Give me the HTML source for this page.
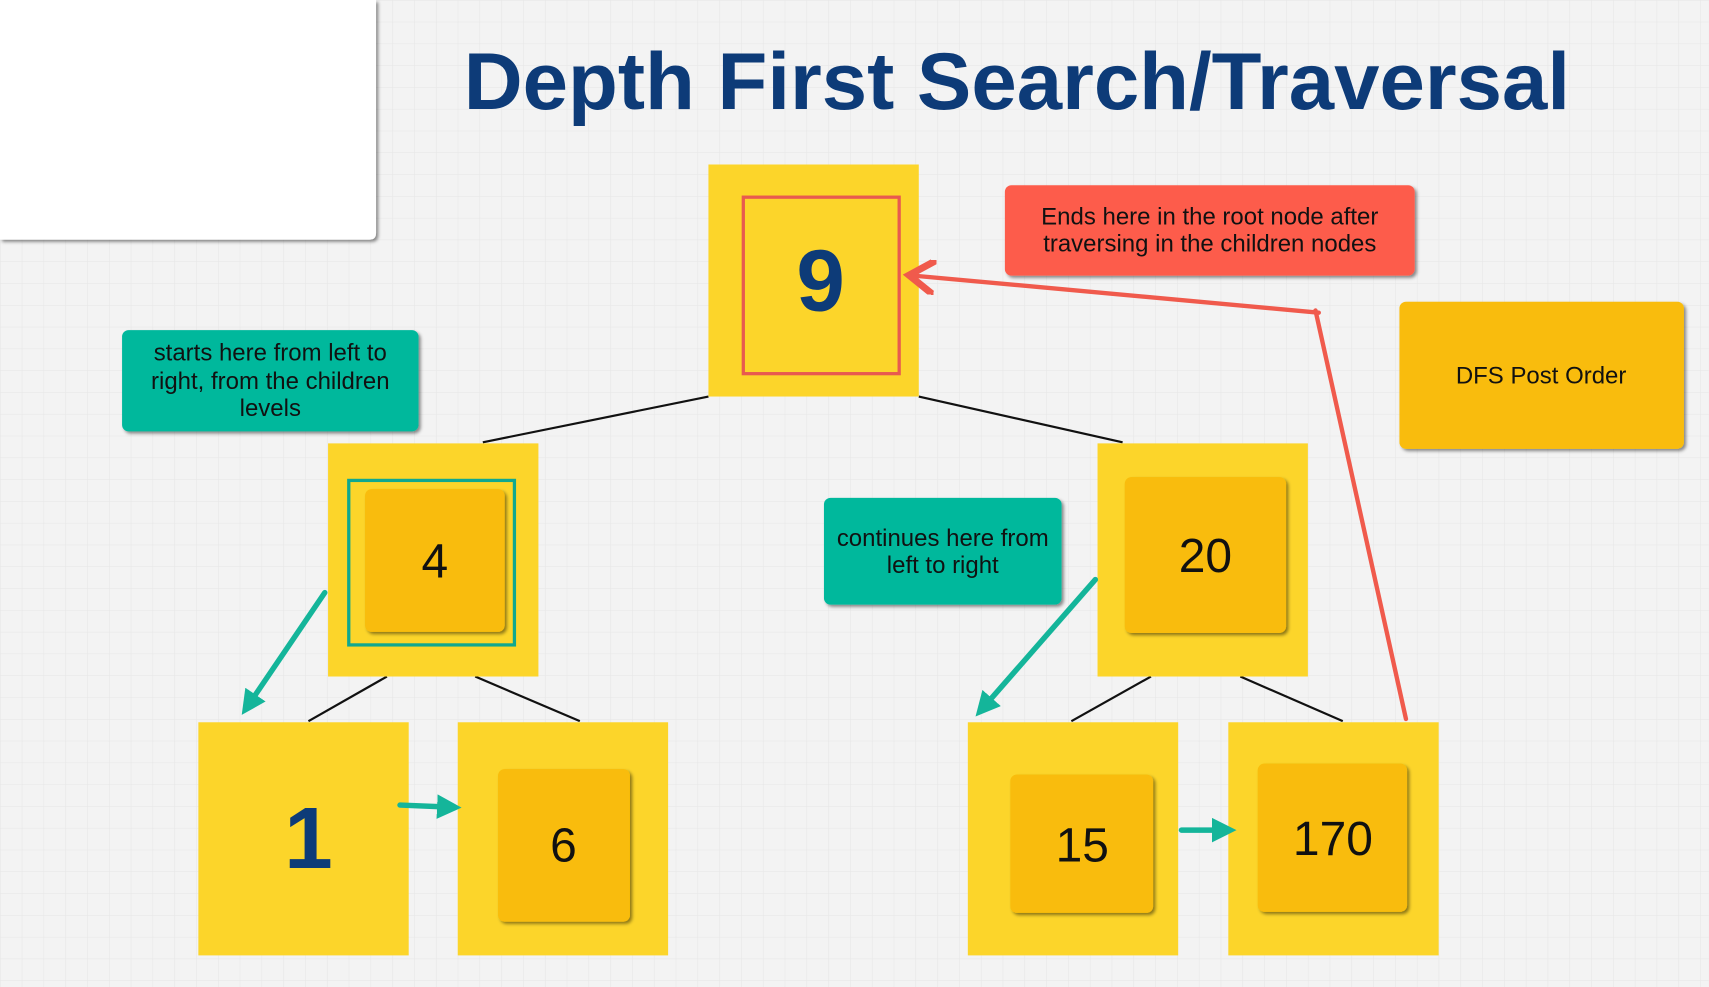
<!DOCTYPE html>
<html><head><meta charset="utf-8"><style>
html,body{margin:0;padding:0;width:1709px;height:987px;overflow:hidden;background:#f2f2f2;}
#w{transform:scale(1.0899,1.0894);transform-origin:0 0;width:1568px;height:906px;}
svg text{font-family:"Liberation Sans",sans-serif;}
</style></head><body><div id="w">
<svg width="1568" height="906" viewBox="0 0 1568 906" xmlns="http://www.w3.org/2000/svg">
<defs>
<pattern id="g" width="20" height="20" patternUnits="userSpaceOnUse"><path d="M20 0H0V20" fill="none" stroke="#e6e6e6" stroke-width="1"/></pattern>
<filter id="s" x="-10%" y="-10%" width="130%" height="130%"><feDropShadow dx="2" dy="2" stdDeviation="1.5" flood-color="#000" flood-opacity="0.45"/></filter>
<marker id="at" markerWidth="4.5" markerHeight="4.5" refX="3" refY="2.25" orient="auto"><path d="M0,0 L4.5,2.25 L0,4.5 Z" fill="#14b59a"/></marker>
<marker id="ar" markerWidth="8" markerHeight="8" refX="5" refY="4" orient="auto"><path d="M0,0 L6,4 L0,8" fill="none" stroke="#f05a4c" stroke-width="1.6"/></marker>
</defs>
<rect width="1568" height="906" fill="#f3f3f3"/>
<rect width="1568" height="906" fill="url(#g)"/>
<path d="M0 0H345V214Q345 220 339 220H0Z" fill="#fff" filter="url(#s)"/>
<text x="933" y="100" text-anchor="middle" font-size="74" font-weight="bold" fill="#0d3b78" textLength="1015" lengthAdjust="spacingAndGlyphs">Depth First Search/Traversal</text>
<g stroke="#111" stroke-width="2">
<line x1="650" y1="364" x2="443" y2="406"/><line x1="843" y1="364" x2="1030" y2="406"/>
<line x1="355" y1="621" x2="283" y2="662"/><line x1="436" y1="621" x2="532" y2="662"/>
<line x1="1056" y1="621" x2="983" y2="662"/><line x1="1138" y1="621" x2="1232" y2="662"/>
</g>
<g fill="#fcd52a">
<rect x="650" y="151" width="193" height="213"/>
<rect x="301" y="407" width="193" height="214"/>
<rect x="1007" y="407" width="193" height="214"/>
<rect x="182" y="663" width="193" height="214"/>
<rect x="420" y="663" width="193" height="214"/>
<rect x="888" y="663" width="193" height="214"/>
<rect x="1127" y="663" width="193" height="214"/>
</g>
<rect x="682" y="181" width="143" height="162" fill="none" stroke="#e85a4f" stroke-width="3"/>
<text x="753" y="285" text-anchor="middle" font-size="80" font-weight="bold" fill="#0d3b78">9</text>
<rect x="320" y="441" width="152" height="151" fill="none" stroke="#10a88f" stroke-width="3"/>
<g fill="#f9bc07" filter="url(#s)">
<rect x="335" y="449" width="128" height="131" rx="6"/>
<rect x="1032" y="438" width="148" height="143" rx="6"/>
<rect x="457" y="706" width="121" height="140" rx="6"/>
<rect x="927" y="711" width="131" height="127" rx="6"/>
<rect x="1154" y="701" width="137" height="136" rx="6"/>
<rect x="1284" y="277" width="261" height="135" rx="6"/>
</g>
<g font-size="44" text-anchor="middle" fill="#111">
<text x="399" y="530">4</text><text x="1106" y="525">20</text><text x="517" y="791">6</text><text x="993" y="791">15</text><text x="1223" y="785">170</text>
</g>
<text x="283" y="797" text-anchor="middle" font-size="80" font-weight="bold" fill="#0d3b78">1</text>
<text x="1414" y="352" text-anchor="middle" font-size="22" fill="#111">DFS Post Order</text>
<rect x="922" y="170" width="376" height="83" rx="6" fill="#fd5c4c" filter="url(#s)"/>
<text x="1110" y="206" text-anchor="middle" font-size="22" fill="#111">Ends here in the root node after</text>
<text x="1110" y="231" text-anchor="middle" font-size="22" fill="#111">traversing in the children nodes</text>
<rect x="112" y="303" width="272" height="93" rx="6" fill="#00b89c" filter="url(#s)"/>
<g font-size="22" text-anchor="middle" fill="#111">
<text x="248" y="331">starts here from left to</text><text x="248" y="357">right, from the children</text><text x="248" y="382">levels</text>
</g>
<rect x="756" y="457" width="218" height="98" rx="6" fill="#00b89c" filter="url(#s)"/>
<g font-size="22" text-anchor="middle" fill="#111">
<text x="865" y="501">continues here from</text><text x="865" y="526">left to right</text>
</g>
<g stroke="#14b59a" stroke-width="5" stroke-linecap="round" marker-end="url(#at)">
<line x1="298" y1="544" x2="226" y2="650"/>
<line x1="367" y1="739" x2="416" y2="741"/>
<line x1="1005" y1="532" x2="900" y2="652"/>
<line x1="1084" y1="762" x2="1127" y2="762"/>
</g>
<g stroke="#f05a4c" stroke-width="4" stroke-linecap="round" fill="none">
<line x1="1290" y1="660" x2="1207" y2="285"/>
<line x1="1210" y1="287" x2="838" y2="253" marker-end="url(#ar)"/>
</g>
</svg></div></body></html>
